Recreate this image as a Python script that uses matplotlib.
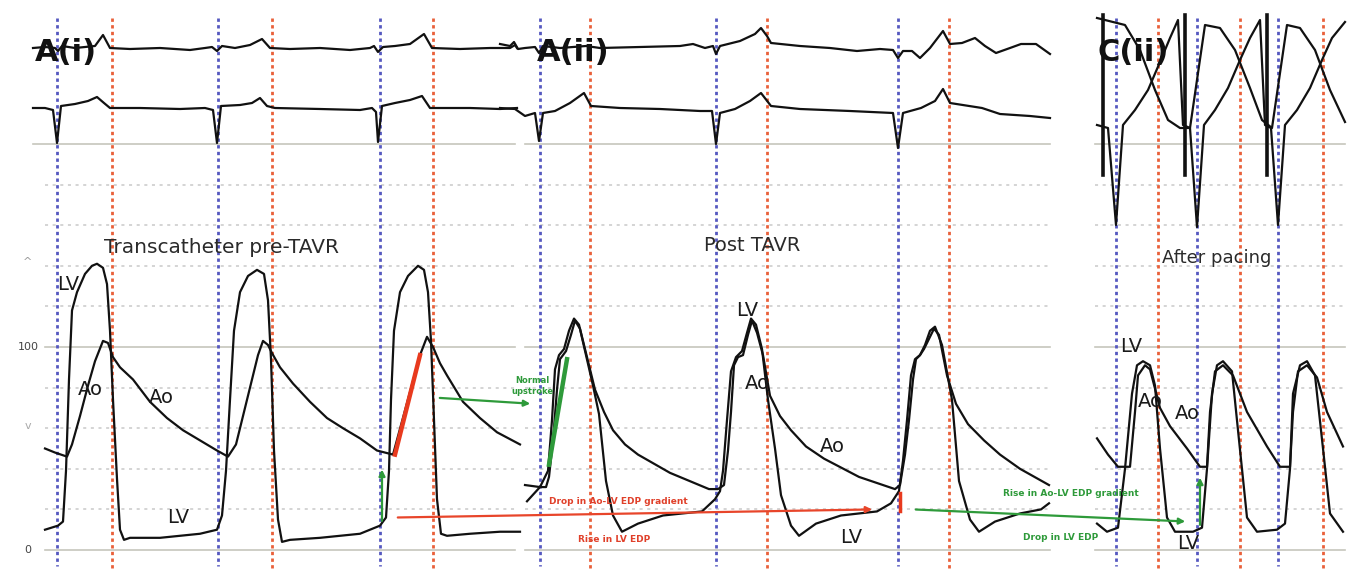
import matplotlib
matplotlib.use('Agg')
import matplotlib.pyplot as plt

# --- pressure traces (t in sample units, P in mmHg) ---
ao1 = [(45, 50), (55, 48), (67, 46), (72, 52), (80, 66), (88, 81), (95, 93), (103, 103),
       (108, 102), (113, 95), (120, 90), (133, 84), (150, 73), (167, 65), (183, 59), (200, 54),
       (217, 49), (228, 46), (236, 52), (244, 68), (252, 84), (258, 96), (263, 103), (268, 101),
       (272, 97), (280, 90), (293, 82), (310, 73), (327, 65), (343, 60), (360, 55), (377, 49),
       (393, 47), (420, 96), (427, 105), (433, 100), (440, 92), (447, 86), (463, 73), (480, 65),
       (497, 58), (520, 52)]
lv1 = [(45, 10), (58, 12), (63, 14), (66, 39), (69, 84), (72, 118), (77, 127), (85, 136), (92, 140),
       (97, 141), (103, 139), (107, 131), (110, 108), (113, 74), (117, 35), (120, 10), (124, 5),
       (130, 6), (160, 6), (200, 8), (217, 10), (222, 17), (226, 39), (230, 74), (234, 108),
       (240, 127), (248, 135), (257, 138), (264, 136), (268, 123), (271, 94), (274, 49), (278, 15),
       (282, 4), (290, 5), (320, 6), (360, 8), (380, 12), (386, 16), (389, 39), (391, 74),
       (394, 108), (400, 127), (408, 135), (418, 140), (424, 138), (428, 127), (431, 103),
       (434, 64), (437, 25), (441, 8), (447, 7), (470, 8), (500, 9), (520, 9)]
ao2 = [(525, 32), (540, 31), (546, 31), (549, 36), (553, 54), (557, 79), (560, 94), (566, 98),
       (571, 106), (575, 113), (580, 109), (588, 93), (595, 79), (604, 68), (613, 59), (625, 52),
       (638, 47), (670, 38), (709, 30), (718, 30), (724, 32), (728, 49), (731, 68), (734, 91),
       (738, 95), (743, 96), (748, 106), (752, 113), (757, 107), (763, 96), (770, 76), (780, 66),
       (791, 59), (806, 51), (824, 45), (859, 36), (895, 30), (900, 32), (905, 47), (909, 64),
       (913, 84), (916, 94), (920, 96), (924, 99), (929, 104), (934, 109), (939, 106), (947, 86),
       (956, 72), (968, 62), (984, 54), (1000, 47), (1020, 40), (1049, 32)]
lv2 = [(527, 24), (540, 31), (548, 39), (552, 64), (555, 89), (559, 96), (564, 99), (569, 108),
       (574, 114), (579, 111), (586, 96), (593, 81), (599, 67), (606, 34), (613, 17), (622, 9),
       (638, 13), (663, 17), (702, 19), (715, 25), (720, 29), (723, 39), (727, 64), (731, 88),
       (736, 95), (742, 98), (747, 107), (751, 114), (756, 111), (762, 99), (768, 74), (775, 50),
       (781, 27), (791, 12), (799, 7), (816, 13), (841, 17), (877, 19), (891, 23), (899, 29),
       (903, 44), (907, 64), (911, 86), (915, 94), (920, 96), (925, 101), (930, 108), (935, 110),
       (942, 101), (952, 74), (959, 34), (970, 15), (979, 9), (995, 14), (1020, 18), (1041, 20),
       (1049, 23)]
ao3 = [(1097, 55), (1108, 47), (1118, 41), (1130, 41), (1135, 68), (1138, 86), (1145, 91),
       (1150, 89), (1160, 70), (1170, 61), (1187, 50), (1200, 41), (1207, 41), (1210, 68),
       (1215, 88), (1223, 91), (1233, 86), (1247, 68), (1267, 51), (1280, 41), (1290, 41),
       (1293, 68), (1298, 88), (1307, 91), (1317, 85), (1327, 68), (1343, 51)]
lv3 = [(1097, 13), (1107, 9), (1118, 11), (1125, 40), (1132, 77), (1137, 91), (1143, 93),
       (1150, 91), (1155, 81), (1160, 50), (1167, 16), (1175, 9), (1193, 9), (1202, 11),
       (1207, 40), (1212, 77), (1217, 91), (1223, 93), (1232, 88), (1238, 59), (1247, 16),
       (1257, 9), (1277, 10), (1285, 13), (1290, 40), (1293, 77), (1300, 91), (1307, 93),
       (1315, 86), (1323, 50), (1330, 18), (1343, 9)]

# --- ECG leads (amplitude in chart px, positive up) ---
ecg1_top = [(33, 0), (45, 1), (55, 0), (58, -3), (62, 2), (75, 0), (95, 2), (103, 13), (110, 0),
            (130, -1), (160, 0), (190, -2), (205, 0), (212, 1), (217, -3), (222, 2), (235, 0),
            (250, 3), (262, 9), (270, 0), (290, -1), (320, 0), (350, -2), (370, 0), (374, 2),
            (378, -4), (383, 1), (395, 2), (410, 4), (424, 14), (432, 0), (460, -1), (490, 0),
            (510, 0), (515, 3), (517, 0)]
ecg1_bot = [(33, 0), (45, 0), (53, -2), (57, -35), (61, 2), (75, 4), (88, 7), (97, 11), (104, 5),
            (110, 0), (140, 0), (180, -1), (205, 0), (213, -2), (217, -35), (221, 2), (240, 3),
            (252, 5), (260, 10), (267, 2), (275, 0), (320, -1), (360, -2), (372, 0), (376, -4),
            (378, -34), (382, 2), (395, 5), (410, 8), (422, 12), (430, 0), (470, 0), (500, -1),
            (517, 0)]
ecg2_top = [(500, 4), (510, 2), (514, 6), (518, -1), (525, 0), (535, 1), (539, -5), (543, 2),
            (560, 0), (586, 2), (600, 0), (640, 1), (680, 2), (693, 4), (705, 0), (713, 2),
            (716, -6), (720, 2), (740, 7), (755, 14), (761, 20), (767, 12), (771, 5), (800, 2),
            (830, 0), (857, -3), (880, -1), (893, -2), (898, -10), (903, -3), (912, -3),
            (920, -10), (930, 0), (943, 17), (950, 4), (962, 5), (975, 10), (985, 2), (996, -5),
            (1010, 0), (1021, 4), (1036, 4), (1050, -6)]
ecg2_bot = [(500, 0), (515, -1), (525, -8), (535, -5), (539, -33), (543, -5), (555, -3), (570, 5),
            (584, 15), (591, 2), (620, 0), (660, -1), (700, -3), (712, -3), (716, -36), (720, -5),
            (735, -1), (750, 7), (761, 15), (771, 2), (800, -1), (850, -3), (893, -5), (898, -40),
            (903, -5), (921, 0), (935, 7), (943, 19), (950, 5), (982, 0), (1000, -6), (1030, -8),
            (1050, -10)]
ecg3_a = [(1097, 3), (1108, 0), (1116, -97), (1123, 3), (1135, 18), (1148, 38), (1160, 66),
          (1170, 90), (1178, 108), (1183, 3), (1190, 0), (1197, -99), (1204, 3), (1215, 18),
          (1228, 40), (1240, 68), (1250, 90), (1260, 108), (1265, 3), (1271, 0), (1278, -97),
          (1285, 3), (1297, 18), (1310, 40), (1322, 68), (1332, 90), (1345, 106)]
ecg3_b = [(1097, 110), (1105, 108), (1125, 103), (1140, 78), (1155, 38), (1168, 8), (1180, 0),
          (1190, 0), (1205, 103), (1220, 100), (1235, 78), (1250, 40), (1262, 8), (1272, 0),
          (1287, 103), (1300, 100), (1315, 78), (1330, 38), (1345, 6)]
pace_spikes = [1103, 1185, 1267]

# timing markers
blue_marks = [57, 218, 380, 540, 716, 898, 1116, 1197, 1278]
red_marks = [112, 272, 433, 590, 767, 949, 1158, 1240, 1323]

panels = [(45, 515), (525, 1050), (1095, 1345)]
grid_dotted = [20, 40, 60, 80, 120, 140, 160, 180]
grid_solid = [0, 100, 200]

PX = 2.03  # px per mmHg
ECG_BASE = [(550 - 48) / PX, (550 - 108) / PX, (550 - 128) / PX]

fig = plt.figure(figsize=(13.6, 5.8), dpi=100)
ax = fig.add_axes([0, 0, 1, 1])
ax.set_xlim(0, 1360)
ax.set_ylim(-30 / PX, 550 / PX)
ax.axis('off')

# grid
for x0, x1 in panels:
    for g in grid_dotted:
        ax.plot([x0, x1], [g, g], color='#c9c9c9', lw=1.1, ls=(0, (2, 3)), zorder=1)
    for g in grid_solid:
        ax.plot([x0 - (12 if g == 200 and x0 < 100 else 0), x1], [g, g],
                color='#c6c6bc', lw=1.2, zorder=1)

# timing lines
for x in blue_marks:
    ax.plot([x, x], [262, -8], color='#5558c0', lw=2, ls=(0, (1.2, 1.2)), zorder=3)
for x in red_marks:
    ax.plot([x, x], [262, -10], color='#e9603a', lw=2, ls=(0, (1.2, 1.2)), zorder=3)


def trace(pts, base=None, **kw):
    t = [p[0] for p in pts]
    v = [p[1] for p in pts]
    if base is not None:
        v = [base + a / PX for a in v]
    ax.plot(t, v, color='#111111', lw=1.6, zorder=4, solid_joinstyle='round', **kw)


for tr in (ao1, lv1, ao2, lv2, ao3, lv3):
    trace(tr)
trace(ecg1_top, ECG_BASE[0])
trace(ecg1_bot, ECG_BASE[1])
trace(ecg2_top, ECG_BASE[0])
trace(ecg2_bot, ECG_BASE[1])
trace(ecg3_a, ECG_BASE[2])
trace(ecg3_b, ECG_BASE[2])
for x in pace_spikes:
    ax.plot([x, x], [ECG_BASE[2] + 113 / PX, ECG_BASE[2] - 47 / PX], color='#111111', lw=2.6, zorder=4)

# slope overlays and arrows
ax.plot([395, 420], [47, 96], color='#e83a1e', lw=3.2, zorder=5)
ax.plot([549, 567], [42, 94], color='#2e9a3a', lw=3.2, zorder=5)
ax.plot([900, 900], [19, 28], color='#e83a1e', lw=2.5, zorder=5)
arr = dict(arrowstyle='-|>', lw=1.6, mutation_scale=9)
ax.annotate('', xy=(875, 20), xytext=(395, 16), arrowprops=dict(color='#e8452a', **arr), zorder=5)
ax.annotate('', xy=(533, 72), xytext=(437, 75), arrowprops=dict(color='#2e9a3a', **arr), zorder=5)
ax.annotate('', xy=(382, 41), xytext=(382, 13), arrowprops=dict(color='#2e9a3a', **arr), zorder=5)
ax.annotate('', xy=(1188, 14), xytext=(913, 20), arrowprops=dict(color='#2e9a3a', **arr), zorder=5)
ax.annotate('', xy=(1200, 37), xytext=(1200, 11), arrowprops=dict(color='#2e9a3a', **arr), zorder=5)

# panel labels
for s, x in (('A(i)', 66), ('A(ii)', 573), ('C(ii)', 1133)):
    ax.text(x, 245, s, fontsize=22, fontweight='bold', ha='center', va='center', color='#111111', zorder=6)
for s, x, y, fs in (('Transcatheter pre-TAVR', 221, 149, 14.5), ('Post TAVR', 752, 150, 14),
                    ('After pacing', 1217, 144, 13)):
    ax.text(x, y, s, fontsize=fs, ha='center', va='center', color='#2a2a2a', zorder=6)

labels = [('LV', 68, 131), ('Ao', 90, 79), ('Ao', 161, 75), ('LV', 178, 16),
          ('LV', 747, 118), ('Ao', 757, 82), ('Ao', 832, 51), ('LV', 851, 6),
          ('LV', 1131, 100), ('Ao', 1150, 73), ('Ao', 1187, 67), ('LV', 1188, 3)]
for s, x, y in labels:
    ax.text(x, y, s, fontsize=14, ha='center', va='center', color='#1a1a1a', zorder=6)

# annotations
ax.text(618, 24, 'Drop in Ao-LV EDP gradient', fontsize=6.5, fontweight='bold', color='#e0402a',
        ha='center', va='center', zorder=6)
ax.text(614, 5, 'Rise in LV EDP', fontsize=6.5, fontweight='bold', color='#e0402a',
        ha='center', va='center', zorder=6)
ax.text(1071, 28, 'Rise in Ao-LV EDP gradient', fontsize=6.5, fontweight='bold', color='#2e9a3a',
        ha='center', va='center', zorder=6)
ax.text(1061, 6, 'Drop in LV EDP', fontsize=6.5, fontweight='bold', color='#2e9a3a',
        ha='center', va='center', zorder=6)
ax.text(532, 81, 'Normal\nupstroke', fontsize=6, fontweight='bold', color='#2e9a3a',
        ha='center', va='center', linespacing=1.3, zorder=6)

# scale labels
for s, y, c in (('100', 100, '#444444'), ('0', 0, '#444444'), ('^', 142, '#999999'), ('v', 61, '#aaaaaa')):
    ax.text(28, y, s, fontsize=8, ha='center', va='center', color=c)

fig.savefig('out.png', dpi=100, facecolor='white')
